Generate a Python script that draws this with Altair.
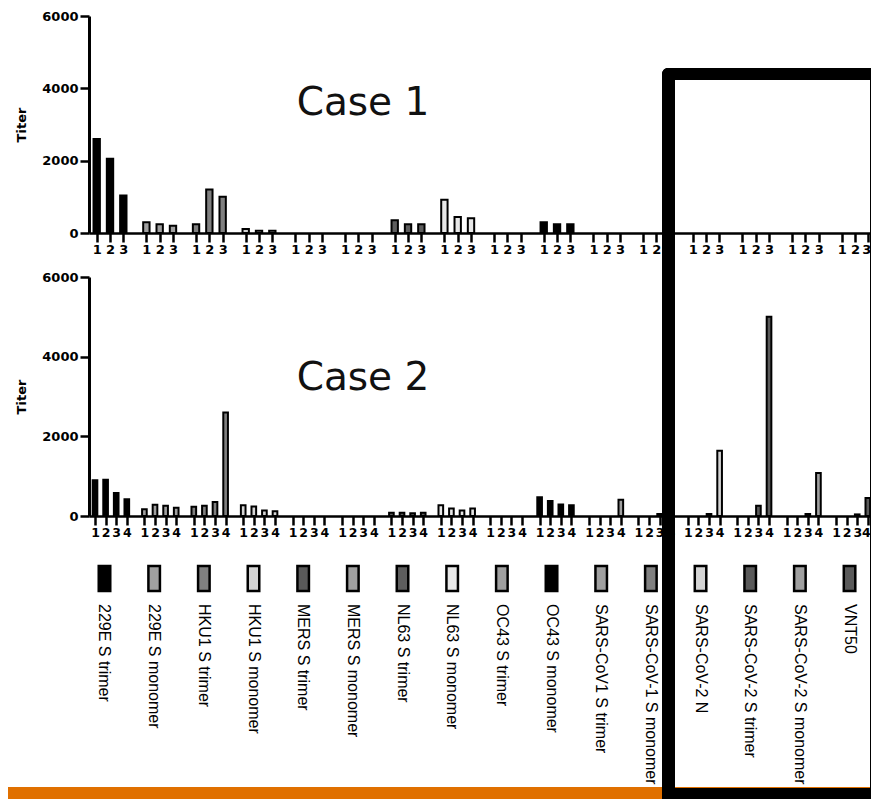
import altair as alt
import pandas as pd

# ---------------- data ----------------
antigens = ["229E S trimer", "229E S monomer", "HKU1 S trimer", "HKU1 S monomer",
            "MERS S trimer", "MERS S monomer", "NL63 S trimer", "NL63 S monomer",
            "OC43 S trimer", "OC43 S monomer", "SARS-CoV1 S trimer", "SARS-CoV-1 S monomer",
            "SARS-CoV-2 N", "SARS-CoV-2 S trimer", "SARS-CoV-2 S monomer", "VNT50"]
antigen_colors = ["#000000", "#a0a0a0", "#808080", "#d4d4d4",
                  "#5a5a5a", "#a0a0a0", "#5e5e5e", "#e8e8e8",
                  "#a0a0a0", "#000000", "#a0a0a0", "#808080",
                  "#d4d4d4", "#5a5a5a", "#a0a0a0", "#5a5a5a"]
case1_titers = [[2600, 2050, 1040], [300, 240, 200], [240, 1200, 1000], [110, 60, 60],
                [0, 0, 0], [0, 0, 0], [350, 240, 240], [920, 440, 410],
                [0, 0, 0], [300, 240, 240], [0, 0, 0], [0, 0, 0],
                [0, 0, 0], [0, 0, 0], [0, 0, 0], [0, 0, 0]]
case2_titers = [[900, 910, 580, 420], [170, 280, 260, 210], [230, 260, 350, 2600], [270, 240, 140, 120],
                [0, 0, 0, 0], [0, 0, 0, 0], [80, 80, 70, 80], [270, 190, 140, 190],
                [0, 0, 0, 0], [470, 375, 290, 270], [0, 0, 0, 410], [0, 0, 50, 0],
                [0, 0, 50, 1640], [0, 0, 260, 5000], [0, 0, 50, 1080], [0, 0, 40, 450]]
case_labels = ["Case 1", "Case 2"]
y_ticks = [0, 2000, 4000, 6000]
y_title = "Titer"


def long_table(titers):
    rows = []
    for g, (name, vals) in enumerate(zip(antigens, titers)):
        for r, v in enumerate(vals):
            rows.append({"antigen": name, "g": g, "rep": r, "titer": v})
    return pd.DataFrame(rows)


df1 = long_table(case1_titers)
df2 = long_table(case2_titers)
legend_df = pd.DataFrame({"antigen": antigens, "g": list(range(len(antigens)))})
one = pd.DataFrame({"k": [0]})

# ---------------- styling ----------------
W = 790
H1, H2 = 217, 239
D1, D2 = 0.268, 0.2146        # spacing of replicate bars within a group (group units)
HW1, HW2 = 0.064, 0.047       # half bar width (group units)
xs1 = alt.Scale(domain=[-0.155, 15.75], nice=False, zero=False, padding=0)
xs2 = alt.Scale(domain=[-0.1215, 15.87], nice=False, zero=False, padding=0)
ys = alt.Scale(domain=[0, 6000], nice=False, padding=0)
cscale = alt.Scale(domain=antigens, range=antigen_colors)
AX_FONT = "DejaVu Sans"


def x_axis(nrep, d, fsize):
    ticks = [round(g + j * d, 4) for g in range(len(antigens)) for j in range(nrep)]
    last = ticks[-1] - 0.01
    return alt.Axis(values=ticks, title=None, grid=False,
                    labelExpr=f"round((datum.value - floor(datum.value + 0.01)) / {d}) + 1",
                    labelOffset={"condition": {"test": f"datum.value > {last}", "value": -2},
                                 "value": 0},
                    domainColor="black", domainWidth=2.5, tickColor="black", tickWidth=2.5,
                    tickSize=9, labelFont=AX_FONT, labelFontWeight="bold", labelFontSize=fsize,
                    labelColor="black", labelPadding=1, labelOverlap=False, labelFlush=False,
                    labelAngle=0, labelBound=False)


AXIS1 = x_axis(3, D1, 13)
AXIS2 = x_axis(4, D2, 12.5)

y_axis = alt.Axis(values=y_ticks, format="d", title=y_title, grid=False,
                  titleFont=AX_FONT, titleFontWeight="bold", titleFontSize=13,
                  titleColor="black", titlePadding=13,
                  domainColor="black", domainWidth=3, tickColor="black", tickWidth=2.5,
                  tickSize=9, labelFont=AX_FONT, labelFontWeight="bold", labelFontSize=13,
                  labelColor="black", labelPadding=2)


def bars(df, d, hw, xs, axis):
    return alt.Chart(df).transform_filter("datum.titer > 0").transform_calculate(
        xa=f"datum.g + datum.rep * {d} - {hw}",
        xb=f"datum.g + datum.rep * {d} + {hw}",
    ).mark_bar(stroke="black", strokeWidth=2, opacity=1).encode(
        x=alt.X("xa:Q", scale=xs, axis=axis),
        x2="xb:Q",
        y=alt.Y("titer:Q", scale=ys, axis=y_axis),
        y2=alt.datum(0),
        color=alt.Color("antigen:N", scale=cscale, legend=None),
    )


def case_text(label, px, py):
    return alt.Chart(pd.DataFrame({"t": [label]})).mark_text(
        font="DejaVu Sans", fontSize=39, color="#111111", align="center", baseline="middle"
    ).encode(x=alt.value(px), y=alt.value(py), text="t:N")


def block(x0, x1, y0, y1, color, radius=0):
    mark = alt.MarkDef(type="rect", color=color, opacity=1)
    if radius:
        mark = alt.MarkDef(type="rect", color=color, opacity=1, cornerRadiusTopLeft=radius)
    return alt.Chart(one, mark=mark).encode(
        x=alt.value(x0), x2=alt.value(x1), y=alt.value(y0), y2=alt.value(y1))


# ---------------- top panel (Case 1) with legend below ----------------
orange = block(-81, 790, 771, 783, "#E07000")
swatches = alt.Chart(legend_df).transform_calculate(
    la="datum.g + 0.157 - 0.116", lb="datum.g + 0.157 + 0.116"
).mark_rect(stroke="black", strokeWidth=2.5, opacity=1).encode(
    x=alt.X("la:Q", scale=xs1, axis=AXIS1), x2="lb:Q",
    y=alt.value(550), y2=alt.value(575),
    color=alt.Color("antigen:N", scale=cscale, legend=None),
)
legend_text = alt.Chart(legend_df).transform_calculate(lx="datum.g + 0.157").mark_text(
    angle=90, align="left", baseline="middle", font="Liberation Sans", fontSize=16, color="black"
).encode(x=alt.X("lx:Q", scale=xs1, axis=AXIS1), y=alt.value(588), text="antigen:N")

top = alt.layer(
    bars(df1, D1, HW1, xs1, AXIS1),
    case_text(case_labels[0], 274, 87),
    orange, swatches, legend_text,
).properties(width=W, height=H1)

# ---------------- bottom panel (Case 2) with highlight box ----------------
bottom = alt.layer(
    bars(df2, D2, HW2, xs2, AXIS2),
    case_text(case_labels[1], 274, 101),
    block(573, 586, -209, 522, "black", radius=6),
    block(573, 790, -209, -197, "black", radius=6),
    block(781, 790, -209, 522, "black"),
    block(573, 790, 511, 522, "black"),
).properties(width=W, height=H2)

chart = alt.vconcat(top, bottom, spacing=44, bounds="flush").properties(
    padding={"left": 0, "top": 2, "right": -8, "bottom": 0}
).configure_view(stroke=None)

chart.save("out.html", embed_options={"renderer": "svg", "actions": False})
